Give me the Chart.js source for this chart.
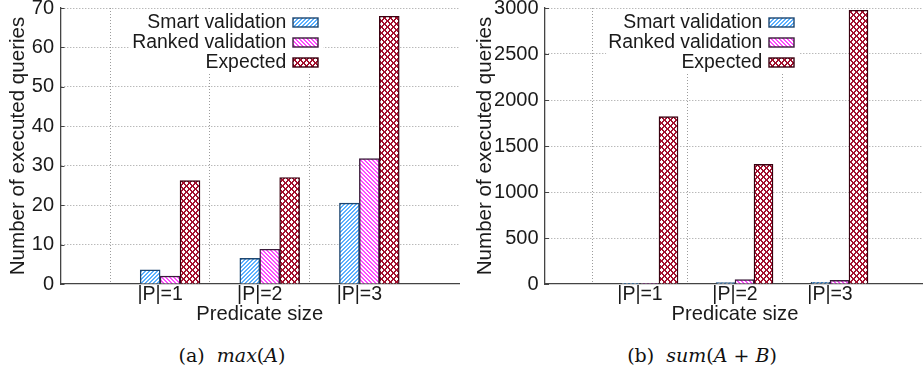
<!DOCTYPE html>
<html>
<head>
<meta charset="utf-8">
<script src="https://cdn.jsdelivr.net/npm/chart.js@4.4.1/dist/chart.umd.min.js"></script>
<style>
  html, body { margin: 0; padding: 0; background: #fff; overflow: hidden; }
  #page { position: relative; width: 923px; height: 374px; overflow: hidden; }
  .panel { position: absolute; top: 0; height: 330px; }
  #panelA { left: 0; width: 460px; }
  #panelB { left: 460px; width: 466px; }
  .cap { position: absolute; top: 344px; width: 240px; text-align: center; white-space: nowrap;
         font-family: "DejaVu Serif", "Liberation Serif", serif; font-size: 19px; line-height: 22px; color: #111; }
  .cap i { font-style: italic; }
</style>
</head>
<body>
<div id="page">
  <div class="panel" id="panelA"><canvas id="chartA"></canvas></div>
  <div class="panel" id="panelB"><canvas id="chartB"></canvas></div>
  <div class="cap" style="left:112px">(a)&nbsp; <i>max</i>(<i>A</i>)</div>
  <div class="cap" style="left:582px">(b)&nbsp; <i>sum</i>(<i>A</i> + <i>B</i>)</div>
</div>
<script>
// Categories and series
const categories = ['|P|=1', '|P|=2', '|P|=3'];
const seriesNames = ['Smart validation', 'Ranked validation', 'Expected'];

// (a) max(A)
const maxSmart = [3.6, 6.5, 20.5];
const maxRanked = [2.0, 8.8, 31.8];
const maxExpected = [26.2, 27.0, 67.9];
const maxTickStep = 10;
const maxAxisTop = 70;

// (b) sum(A+B)
const sumSmart = [3, 15, 18];
const sumRanked = [6, 48, 40];
const sumExpected = [1820, 1300, 2975];
const sumTickStep = 500;
const sumAxisTop = 3000;

const AXIS_TEXT = '#1a1a1a';
const GRID = '#9c9c9c';
const SANS = '"Liberation Sans", Arial, Helvetica, sans-serif';

// Fill patterns: white ground with crisp pixel diagonal hatching
function hatch(color, period, dir, thick) {
  const c = document.createElement('canvas');
  c.width = c.height = period;
  const g = c.getContext('2d');
  g.fillStyle = '#fff';
  g.fillRect(0, 0, period, period);
  g.fillStyle = color;
  for (let y = 0; y < period; y++) {
    for (let t = 0; t < thick; t++) {
      if (dir === '/' || dir === 'x') g.fillRect((period - 1 - y + t) % period, y, 1, 1);
      if (dir === '\\' || dir === 'x') g.fillRect((y + t) % period, y, 1, 1);
    }
  }
  return g.createPattern(c, 'repeat');
}

const styles = [
  { fill: hatch('#5ab0ff', 4, '/', 2), border: '#1d4670' },
  { fill: hatch('#ff4cff', 4, '\\', 2), border: '#3a1a3a' },
  { fill: hatch('#a3102e', 6, 'x', 2), border: '#3a0010' }
];

// Each cluster sits slightly right of its category tick
const clusterOffsets = [-0.1, 0.1, 0.3];

function buildDatasets(seriesValues) {
  return seriesValues.map((vals, s) => ({
    label: seriesNames[s],
    data: vals.map((v, i) => ({ x: i + 1 + clusterOffsets[s], y: v })),
    backgroundColor: styles[s].fill,
    borderColor: styles[s].border,
    borderWidth: 1.4,
    grouped: false,
    barPercentage: 1,
    categoryPercentage: 1
  }));
}

// Key drawn inside the plot, text right-aligned before each swatch, on an opaque ground
const keyPlugin = {
  id: 'insideKey',
  afterDatasetsDraw(chart, args, opts) {
    const { ctx, chartArea } = chart;
    const sets = chart.data.datasets;
    ctx.save();
    ctx.font = '19.4px ' + SANS;
    const sw = 25, sh = 9, gap = 7, rowH = 20;
    const boxRight = chartArea.left + opts.anchor * (chartArea.right - chartArea.left);
    const textRight = boxRight - sw - gap;
    const maxW = Math.max(...sets.map(d => ctx.measureText(d.label).width));
    const firstRow = chartArea.top + 14.3;
    ctx.fillStyle = '#fff';
    ctx.fillRect(textRight - maxW - 2, firstRow - 11, maxW + gap + sw + 7, rowH * (sets.length - 1) + 21);
    sets.forEach((d, i) => {
      const y = firstRow + i * rowH;
      ctx.fillStyle = AXIS_TEXT;
      ctx.textAlign = 'right';
      ctx.textBaseline = 'middle';
      ctx.fillText(d.label, textRight, y);
      const bx = Math.round(boxRight - sw), by = Math.round(y - sh / 2);
      ctx.fillStyle = d.backgroundColor;
      ctx.fillRect(bx, by, sw, sh);
      ctx.strokeStyle = d.borderColor;
      ctx.lineWidth = 1.4;
      ctx.strokeRect(bx, by, sw, sh);
    });
    ctx.restore();
  }
};

// Short inward tick marks on the value axis
const innerTicks = {
  id: 'innerTicks',
  afterDatasetsDraw(chart) {
    const { ctx } = chart;
    const y = chart.scales.y;
    ctx.save();
    ctx.strokeStyle = '#444';
    ctx.lineWidth = 1;
    y.ticks.forEach((t, i) => {
      const py = Math.round(y.getPixelForTick(i)) + 0.5;
      ctx.beginPath();
      ctx.moveTo(y.right, py);
      ctx.lineTo(y.right + 4, py);
      ctx.stroke();
    });
    ctx.restore();
  }
};

function makeChart(canvasId, seriesValues, axisTop, step, yWidth, yTitlePad, keyAnchor) {
  return new Chart(document.getElementById(canvasId), {
    type: 'bar',
    data: { datasets: buildDatasets(seriesValues) },
    plugins: [innerTicks, keyPlugin],
    options: {
      responsive: true,
      maintainAspectRatio: false,
      animation: false,
      layout: { autoPadding: false, padding: { left: 0, right: 1, top: 8, bottom: 0 } },
      plugins: {
        legend: { display: false },
        tooltip: { enabled: false },
        insideKey: { anchor: keyAnchor }
      },
      scales: {
        x: {
          type: 'linear',
          min: 0,
          max: categories.length + 1,
          offset: false,
          afterFit: s => { s.height = 46; s.paddingLeft = 0; s.paddingRight = 0; },
          ticks: {
            stepSize: 1,
            autoSkip: false,
            padding: -1,
            color: AXIS_TEXT,
            font: { family: SANS, size: 19.5 },
            callback: v => (Number.isInteger(v) && v >= 1 && v <= categories.length) ? categories[v - 1] : ''
          },
          grid: {
            drawTicks: false,
            lineWidth: 1,
            color: c => (c.tick && c.tick.value > 0 && c.tick.value <= categories.length) ? GRID : 'rgba(0,0,0,0)'
          },
          border: { display: true, color: '#444', width: 1.3, dash: [1, 2] },
          title: {
            display: true,
            text: 'Predicate size',
            color: AXIS_TEXT,
            font: { family: SANS, size: 20.2 },
            padding: { top: 0, bottom: 3 }
          }
        },
        y: {
          min: 0,
          max: axisTop,
          afterFit: s => { s.width = yWidth; s.paddingTop = 0; s.paddingBottom = 0; },
          ticks: {
            stepSize: step,
            padding: 6.5,
            color: AXIS_TEXT,
            font: { family: SANS, size: 20 },
            callback: v => String(v)
          },
          grid: {
            drawTicks: false,
            lineWidth: 1,
            color: c => (c.tick && c.tick.value > 0) ? GRID : 'rgba(0,0,0,0)'
          },
          border: { display: true, color: '#444', width: 1.3, dash: [1, 2] },
          title: {
            display: true,
            text: 'Number of executed queries',
            color: AXIS_TEXT,
            font: { family: SANS, size: 20.6 },
            padding: { top: yTitlePad, bottom: 0 }
          }
        }
      }
    }
  });
}

makeChart('chartA', [maxSmart, maxRanked, maxExpected], maxAxisTop, maxTickStep, 60.5, 6, 0.647);
makeChart('chartB', [sumSmart, sumRanked, sumExpected], sumAxisTop, sumTickStep, 85, 13.2, 0.656);
</script>
</body>
</html>
